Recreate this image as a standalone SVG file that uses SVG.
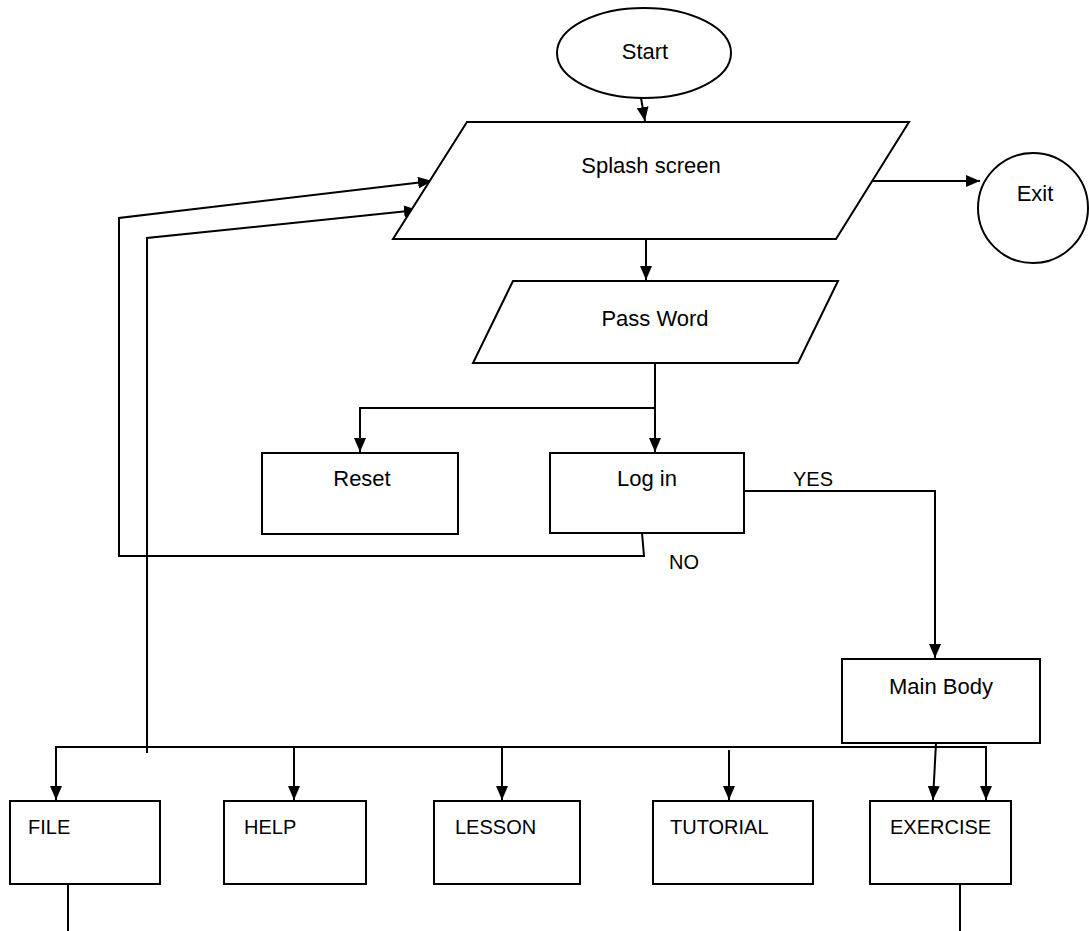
<svg xmlns="http://www.w3.org/2000/svg" width="1089" height="931" viewBox="0 0 1089 931">
<defs>
<marker id="ah" viewBox="0 0 14 12" refX="14" refY="6" markerWidth="14" markerHeight="12" markerUnits="userSpaceOnUse" orient="auto">
<path d="M0,0 L14,6 L0,12 Z" fill="#000"/>
</marker>
<style>
.shape{fill:#fff;stroke:#000;stroke-width:2}
.t{font-family:"Liberation Sans",Arial,sans-serif;font-size:22px;fill:#000}
.u{font-size:20px}
.c{text-anchor:middle}
.ln{fill:none;stroke:#000;stroke-width:2}
.ar{fill:none;stroke:#000;stroke-width:2;marker-end:url(#ah)}
</style>
</defs>
<rect width="1089" height="931" fill="#fff"/>
<g id="connectors">
<path class="ar" d="M641,98 L645,121"/>
<path class="ar" d="M873,181 L980,181"/>
<path class="ar" d="M646,239 L646,280"/>
<path class="ln" d="M655,363 L655,408"/>
<path class="ar" d="M655,408 L655,452"/>
<path class="ar" d="M655,408 L360,408 L360,452"/>
<path class="ar" d="M744,491 L935,491 L935,658"/>
<path class="ar" d="M642,533 L644,556 L119,556 L119,218 L432,181"/>
<path class="ar" d="M147,753 L147,238 L418,210"/>
<path class="ln" d="M55,747 L987,747"/>
<path class="ar" d="M56,747 L56,800"/>
<path class="ar" d="M294,747 L294,800"/>
<path class="ar" d="M502,747 L502,800"/>
<path class="ar" d="M729,750 L729,800"/>
<path class="ar" d="M936,743 L933,800"/>
<path class="ar" d="M986,747 L986,800"/>
<path class="ln" d="M68,884 L68,931"/>
<path class="ln" d="M960,884 L960,931"/>
<text class="t u c" x="813" y="486">YES</text>
<text class="t u c" x="684" y="569">NO</text>
</g>
<g id="start">
<ellipse class="shape" cx="644" cy="53" rx="87" ry="45"/>
<text class="t c" x="645" y="59">Start</text>
</g>
<g id="splash">
<polygon class="shape" points="467,122 909,122 836,239 393,239"/>
<text class="t c" x="651" y="173">Splash screen</text>
</g>
<g id="exit">
<circle class="shape" cx="1033" cy="208" r="55"/>
<text class="t c" x="1035" y="201">Exit</text>
</g>
<g id="password">
<polygon class="shape" points="513,281 838,281 798,363 473,363"/>
<text class="t c" x="655" y="326">Pass Word</text>
</g>
<g id="reset">
<rect class="shape" x="262" y="453" width="196" height="81"/>
<text class="t c" x="362" y="486">Reset</text>
</g>
<g id="login">
<rect class="shape" x="550" y="453" width="194" height="80"/>
<text class="t c" x="647" y="486">Log in</text>
</g>
<g id="mainbody">
<rect class="shape" x="842" y="659" width="198" height="84"/>
<text class="t c" x="941" y="694">Main Body</text>
</g>
<g id="file">
<rect class="shape" x="10" y="801" width="150" height="83"/>
<text class="t u" x="28" y="834">FILE</text>
</g>
<g id="help">
<rect class="shape" x="224" y="801" width="142" height="83"/>
<text class="t u" x="244" y="834">HELP</text>
</g>
<g id="lesson">
<rect class="shape" x="434" y="801" width="146" height="83"/>
<text class="t u" x="455" y="834">LESSON</text>
</g>
<g id="tutorial">
<rect class="shape" x="653" y="801" width="160" height="83"/>
<text class="t u" x="670" y="834">TUTORIAL</text>
</g>
<g id="exercise">
<rect class="shape" x="870" y="801" width="141" height="83"/>
<text class="t u" x="890" y="834">EXERCISE</text>
</g>
</svg>
